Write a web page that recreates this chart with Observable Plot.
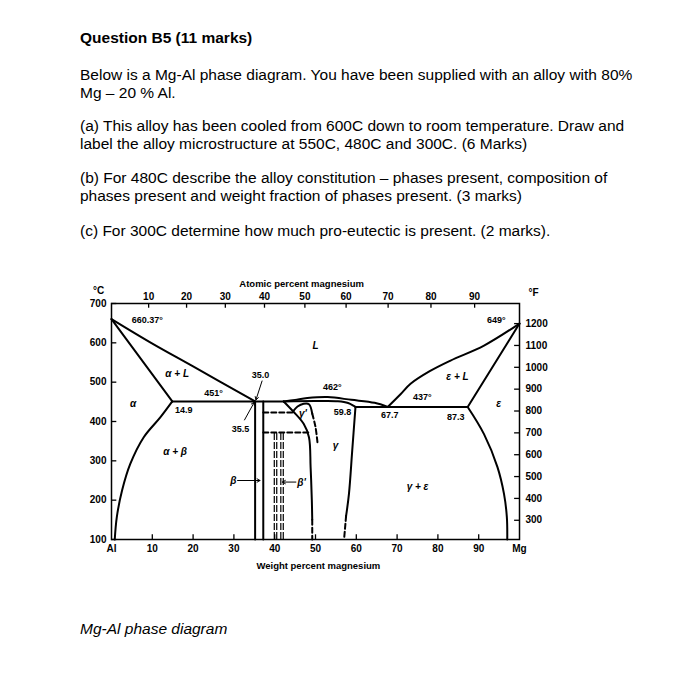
<!DOCTYPE html>
<html><head><meta charset="utf-8">
<script src="https://cdn.jsdelivr.net/npm/d3@7"></script>
<script src="https://cdn.jsdelivr.net/npm/@observablehq/plot@0.6"></script>
<style>
html,body{margin:0;padding:0;background:#fff;}
body{width:700px;height:700px;position:relative;overflow:hidden;font-family:"Liberation Sans",Arial,sans-serif;color:#000;}
.t{position:absolute;left:80px;font-size:15.5px;line-height:18px;white-space:nowrap;}
#chart{position:absolute;left:0;top:260px;}
#chart svg{overflow:visible;}
</style></head><body>
<div class="t" style="top:29px;font-weight:bold">Question B5 (11 marks)</div>
<div class="t" style="top:66px">Below is a Mg-Al phase diagram. You have been supplied with an alloy with 80%</div>
<div class="t" style="top:84px">Mg – 20 % Al.</div>
<div class="t" style="top:117px">(a) This alloy has been cooled from 600C down to room temperature. Draw and</div>
<div class="t" style="top:135px">label the alloy microstructure at 550C, 480C and 300C. (6 Marks)</div>
<div class="t" style="top:169px">(b) For 480C describe the alloy constitution – phases present, composition of</div>
<div class="t" style="top:187px">phases present and weight fraction of phases present. (3 marks)</div>
<div class="t" style="top:222px">(c) For 300C determine how much pro-eutectic is present. (2 marks).</div>
<div id="chart"></div>
<div class="t" style="top:620px;font-style:italic">Mg-Al phase diagram</div>
<script>
// ---- axis data ----
const celsiusTicks = [100, 200, 300, 400, 500, 600, 700];
const weightTicks = [0, 10, 20, 30, 40, 50, 60, 70, 80, 90, 100];
const weightLabels = ["Al", "10", "20", "30", "40", "50", "60", "70", "80", "90", "Mg"];
const atomicLabels = ["10", "20", "30", "40", "50", "60", "70", "80", "90"];
const atomicAtWeight = [9.1, 18.4, 27.9, 37.5, 47.4, 57.5, 67.8, 78.3, 89.0];
const fahrenheitTicks = [300, 400, 500, 600, 700, 800, 900, 1000, 1100, 1200];

// ---- phase boundaries [wt% Mg, °C] ----
const alLiquidus = [[0, 660.37], [9.7, 600], [20, 540], [35.2, 451]];
const alSolidus = [[0, 660.37], [14.9, 451]];
const alSolvus = [[14.9, 451], [12, 411], [7.9, 360], [4.6, 292], [2.6, 225], [1.3, 157], [0.8, 100]];
const eutectic451 = [[14.9, 451], [42.2, 451]];
const betaLeft = [[35.2, 451], [35.2, 100]];
const betaRight = [[37.2, 451], [37.2, 100]];
const gammaLiquidus = [[42.2, 451], [45, 455], [48, 459.5], [53, 462], [58.8, 455], [64.5, 447.5], [67.7, 437]];
const gammaSolidus = [[42.2, 451], [50, 452], [55.5, 451.5], [58, 447], [59.8, 437]];
const gammaLeftSolid = [[42.2, 451], [44.5, 426], [47.1, 394], [48.4, 360], [48.8, 284], [49.1, 200], [49.2, 150]];
const gammaLeftDashed = [[49.2, 150], [49.2, 100]];
const gammaPrimeSolid = [[44.5, 426], [45.6, 438], [47.1, 445], [48.4, 444], [49.2, 420]];
const gammaPrimeDashed = [[49.2, 420], [50, 386], [50.5, 345]];
const gammaRightSolid = [[59.8, 437], [59, 326], [58.2, 216], [57.5, 160]];
const gammaRightDashed = [[57.5, 160], [57, 100]];
const dashed423 = [[37.2, 423], [44.8, 423]];
const dashed372 = [[37.2, 372], [48.6, 372]];
const betaPrimeLines = [39.9, 40.5, 41.5, 42.1];
const betaPrimeTop = 372;
const mgLiquidus = [[67.7, 437], [70.9, 470], [73.3, 496], [78, 528], [83.1, 555], [91.3, 593], [100, 649]];
const mgSolidus = [[100, 649], [87.3, 437]];
const mgSolvus = [[87.3, 437], [91.3, 368], [94.6, 284], [96.2, 216], [96.9, 157], [97, 100]];
const eutectic437 = [[59.8, 437], [87.3, 437]];

// ---- labels ----
const regionLabels = [
  {w: 16.1, t: 521, text: "α + L"},
  {w: 5.3, t: 446, text: "α"},
  {w: 15.6, t: 322, text: "α + β"},
  {w: 50, t: 593, text: "L"},
  {w: 84.8, t: 514, text: "ε + L"},
  {w: 94.9, t: 446, text: "ε"},
  {w: 54.9, t: 339, text: "γ"},
  {w: 75, t: 233, text: "γ + ε"},
  {w: 46.9, t: 419, text: "γ'"},
  {w: 46.6, t: 245, text: "β'"}
];
const valueLabels = [
  {w: 8.8, t: 658, text: "660.37°"},
  {w: 25, t: 471, text: "451°"},
  {w: 17.7, t: 428, text: "14.9"},
  {w: 36.5, t: 517, text: "35.0"},
  {w: 31.6, t: 381, text: "35.5"},
  {w: 54.1, t: 487, text: "462°"},
  {w: 56.6, t: 423.6, text: "59.8"},
  {w: 68.2, t: 415, text: "67.7"},
  {w: 76.2, t: 462, text: "437°"},
  {w: 84.4, t: 411, text: "87.3"},
  {w: 94.3, t: 657, text: "649°"}
];
const betaLabel = {w: 30.6, t: 250, text: "β"};
const pointers = [
  {w1: 36.9, t1: 503, w2: 35.4, t2: 455},
  {w1: 32.6, t1: 404, w2: 35.0, t2: 449},
  {w1: 30.9, t1: 250, w2: 36.4, t2: 250},
  {w1: 45.2, t1: 246, w2: 41.9, t2: 246}
];

const F2C = f => (f - 32) * 5 / 9;
const blk = "#000";
const line = (data, o = {}) => Plot.line(data, {x: d => d[0], y: d => d[1], stroke: blk, strokeWidth: 2, curve: "catmull-rom", ...o});
const dash = (data, o = {}) => line(data, {strokeDasharray: "5,3", ...o});

const chart = Plot.plot({
  width: 700, height: 330,
  marginLeft: 111, marginRight: 181, marginTop: 43, marginBottom: 51,
  x: {domain: [0, 100], axis: null},
  y: {domain: [100, 700], axis: null},
  style: {fontFamily: "Liberation Sans, Arial, sans-serif", background: "white", color: "#000"},
  marks: [
    // ticks (inward)
    Plot.ruleY(celsiusTicks, {y: d => d, x1: 0, x2: 1.3, stroke: blk, strokeWidth: 1.3}),
    Plot.ruleX(weightTicks.slice(1, -1), {x: d => d, y1: 100, y2: 112, stroke: blk, strokeWidth: 1.3}),
    Plot.ruleX(atomicAtWeight, {x: d => d, y1: 700, y2: 688, stroke: blk, strokeWidth: 1.3}),
    Plot.ruleY(fahrenheitTicks, {y: F2C, x1: 98.8, x2: 100, stroke: blk, strokeWidth: 1.3}),
    // tick labels
    Plot.text(celsiusTicks, {x: 0, y: d => d, text: d => String(d), dx: -5, textAnchor: "end", fontSize: 10, fontWeight: "bold"}),
    Plot.text(fahrenheitTicks, {x: 100, y: F2C, text: d => String(d), dx: 6, textAnchor: "start", fontSize: 10, fontWeight: "bold"}),
    Plot.text(weightTicks, {x: d => d, y: 100, text: (d, i) => weightLabels[i], dy: 9, fontSize: 10, fontWeight: "bold"}),
    Plot.text(atomicAtWeight, {x: d => d, y: 700, text: (d, i) => atomicLabels[i], dy: -7, fontSize: 10, fontWeight: "bold"}),
    Plot.text(["°C"], {x: 0, y: 700, text: d => d, dx: -13, dy: -13, fontSize: 10, fontWeight: "bold"}),
    Plot.text(["°F"], {x: 100, y: 700, text: d => d, dx: 14, dy: -11, fontSize: 10, fontWeight: "bold"}),
    Plot.text(["Atomic percent magnesium"], {x: 46.6, y: 700, text: d => d, dy: -20, fontSize: 9.5, fontWeight: "bold"}),
    Plot.text(["Weight percent magnesium"], {x: 50.7, y: 100, text: d => d, dy: 26, fontSize: 9.5, fontWeight: "bold"}),
    // phase boundaries
    line(alLiquidus), line(alSolidus, {curve: "linear"}), line(alSolvus),
    line(eutectic451, {curve: "linear"}),
    line(betaLeft, {curve: "linear"}), line(betaRight, {curve: "linear"}),
    line(gammaLiquidus), line(gammaSolidus),
    line(gammaLeftSolid), dash(gammaLeftDashed),
    line(gammaPrimeSolid), dash(gammaPrimeDashed),
    line(gammaRightSolid), dash(gammaRightDashed),
    dash(dashed423, {curve: "linear"}), dash(dashed372, {curve: "linear"}),
    Plot.ruleX(betaPrimeLines, {x: d => d, y1: 100, y2: betaPrimeTop, stroke: blk, strokeWidth: 1.2, strokeDasharray: "7,2"}),
    line(mgLiquidus), line(mgSolidus, {curve: "linear"}), line(mgSolvus),
    line(eutectic437, {curve: "linear"}),
    // pointers
    Plot.arrow(pointers, {x1: "w1", y1: "t1", x2: "w2", y2: "t2", stroke: blk, strokeWidth: 1, headLength: 5}),
    // labels
    Plot.text(regionLabels, {x: "w", y: "t", text: "text", fontSize: 10, fontWeight: "bold", fontStyle: "italic"}),
    Plot.text([betaLabel], {x: "w", y: "t", text: "text", textAnchor: "end", fontSize: 10, fontWeight: "bold", fontStyle: "italic"}),
    Plot.text(valueLabels, {x: "w", y: "t", text: "text", fontSize: 9, fontWeight: "bold"}),
    Plot.frame({stroke: blk, strokeWidth: 1.5})
  ]
});
document.getElementById("chart").appendChild(chart);
</script>
</body></html>
